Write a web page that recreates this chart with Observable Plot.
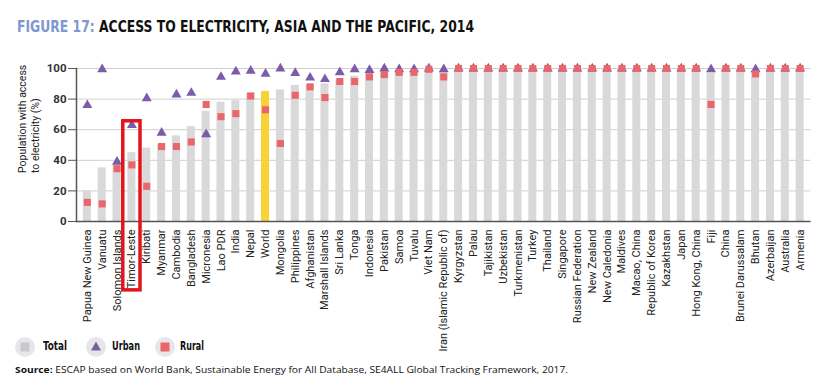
<!DOCTYPE html>
<html>
<head>
<meta charset="utf-8">
<script src="https://cdn.jsdelivr.net/npm/d3@7"></script>
<script src="https://cdn.jsdelivr.net/npm/@observablehq/plot@0.6"></script>
<style>
  html, body { margin: 0; padding: 0; background: #fff; }
  #wrap { position: relative; width: 828px; height: 389px; overflow: hidden; background: #fff; }
  #title { position: absolute; left: 17px; top: 17px; font-family: "Liberation Sans Narrow", "DejaVu Sans Condensed", Roboto, sans-serif; font-weight: bold; font-size: 16.5px; line-height: 20px; white-space: nowrap; color: #111; transform-origin: 0 0; }
  #title .fig { color: #7f97cf; }
  #chart { position: absolute; left: 0; top: 48px; }
  #chart svg { overflow: visible; }
  .leg { position: absolute; font-family: "Liberation Sans Narrow", "DejaVu Sans Condensed", Roboto, sans-serif; font-weight: bold; font-size: 12.5px; color: #111; line-height: 14px; white-space: nowrap; transform-origin: 0 0; }
  .legsym { position: absolute; }
  #source { position: absolute; left: 15px; top: 364px; font-family: "Open Sans", Roboto, sans-serif; font-size: 9.5px; line-height: 12px; color: #111; white-space: nowrap; transform-origin: 0 0; }
  #source b { font-weight: bold; }
</style>
</head>
<body>
<div id="wrap">
  <div id="title"><span class="fig">FIGURE 17:</span> ACCESS TO ELECTRICITY, ASIA AND THE PACIFIC, 2014</div>
  <div id="chart"></div>
  <div id="legend"></div>
  <div id="source"><b>Source:</b> ESCAP based on World Bank, Sustainable Energy for All Database, SE4ALL Global Tracking Framework, 2017.</div>
</div>
<script>
const countries = ["Papua New Guinea","Vanuatu","Solomon Islands","Timor-Leste","Kiribati","Myanmar","Cambodia","Bangladesh","Micronesia","Lao PDR","India","Nepal","World","Mongolia","Philippines","Afghanistan","Marshall Islands","Sri Lanka","Tonga","Indonesia","Pakistan","Samoa","Tuvalu","Viet Nam","Iran (Islamic Republic of)","Kyrgyzstan","Palau","Tajikistan","Uzbekistan","Turkmenistan","Turkey","Thailand","Singapore","Russian Federation","New Zealand","New Caledonia","Maldives","Macao, China","Republic of Korea","Kazakhstan","Japan","Hong Kong, China","Fiji","China","Brunei Darussalam","Bhutan","Azerbaijan","Australia","Armenia"];

const total = [20,35,37,45,48,50,56,62,72,78,79,84,85,86,89,89.5,90,92.5,95,97,97.5,98,98,99,98.5,100,100,100,100,100,100,100,100,100,100,100,100,100,100,100,100,100,97,100,100,98,100,100,100];

const urban = [76,99.5,39,63,80.5,58,83,84,57,94.5,98,98.5,96.5,100,97,94,93,97.5,99.5,99,100,99.5,99.5,100,99.5,100,100,100,100,100,100,100,100,100,100,100,100,100,100,100,100,100,99.5,100,100,99.5,100,100,100];

const rural = [12.5,11.5,34.5,37,23,49,49,52,76.5,68.5,70.5,82,73,51,82.5,88,81,91.5,91.5,94.5,96,97.5,97.5,99.5,94.5,100,100,100,100,100,100,100,100,100,100,100,100,100,100,100,100,100,76.5,100,100,96.5,100,100,100];

const yTicks = [0,20,40,60,80,100];
const highlighted = ["Timor-Leste"];
const highlightExtent = [-45, 65.5];
const worldName = "World";
const yLabel = "Population with access\nto electricity (%)";
const legendItems = ["Total","Urban","Rural"];

const colGray = "#d9d9d9", colWorld = "#f8d336", colUrban = "#7a5ca8", colRural = "#e9676a", colBox = "#e3141b";

const data = countries.map((c, i) => ({country: c, total: total[i], urban: urban[i], rural: rural[i]}));

const chart = Plot.plot({
  width: 828,
  height: 341,
  marginTop: 20,
  marginBottom: 168,
  marginLeft: 76,
  marginRight: 17.5,
  style: {fontFamily: "Roboto, sans-serif", background: "transparent", overflow: "visible"},
  x: {domain: countries, padding: 0.46, label: null},
  y: {domain: [0, 100], label: null},
  marks: [
    Plot.gridY(yTicks, {stroke: "#cfcfcf", strokeOpacity: 1, strokeWidth: 1}),
    Plot.barY(data, {filter: d => d.country !== worldName, x: "country", y: "total", fill: colGray}),
    Plot.barY(data, {filter: d => d.country === worldName, x: "country", y: "total", fill: colWorld}),
    Plot.frame({anchor: "left", stroke: "#555", strokeWidth: 1.5}),
    Plot.ruleY([0], {stroke: "#555", strokeWidth: 1.5}),
    Plot.axisY({ticks: yTicks, tickSize: 8, tickPadding: 2, stroke: "#555", fill: "#333", fontSize: 11.5, fontWeight: "bold", label: null}),
    Plot.axisX({tickRotate: -90, tickSize: 0, tickPadding: 8, fontSize: 11, fill: "#222", label: null}),
    Plot.dot(data, {x: "country", y: "urban", symbol: "triangle", fill: colUrban, r: 3.7}),
    Plot.dot(data, {x: "country", y: "rural", symbol: "square", fill: colRural, r: 4}),
    Plot.barY(highlighted, {x: d => d, y1: highlightExtent[0], y2: highlightExtent[1], fill: "none", stroke: colBox, strokeWidth: 3.5, insetLeft: -4.6, insetRight: -4.6}),
    Plot.text([yLabel], {frameAnchor: "left", rotate: -90, dx: -48, dy: 28, fontSize: 10.5, lineHeight: 1.25, fill: "#222"})
  ]
});
document.getElementById("chart").appendChild(chart);

function fitWidth(el, target) {
  const w = el.getBoundingClientRect().width;
  if (w > 0) el.style.transform = `scaleX(${target / w})`;
}

// legend
const legend = document.getElementById("legend");
const legX = [25, 95.5, 164.5];
const legTextX = [43, 112, 180];
const legTextW = [24, 28, 24];
legendItems.forEach((name, i) => {
  const ns = "http://www.w3.org/2000/svg";
  const svg = document.createElementNS(ns, "svg");
  svg.setAttribute("width", 22); svg.setAttribute("height", 22);
  svg.setAttribute("class", "legsym");
  svg.style.left = (legX[i] - 11) + "px";
  svg.style.top = (346.5 - 11) + "px";
  const circ = document.createElementNS(ns, "circle");
  circ.setAttribute("cx", 11); circ.setAttribute("cy", 11); circ.setAttribute("r", 10);
  circ.setAttribute("fill", "#e7e7eb");
  svg.appendChild(circ);
  let shape;
  if (i === 0) {
    shape = document.createElementNS(ns, "rect");
    shape.setAttribute("x", 6.5); shape.setAttribute("y", 6.5); shape.setAttribute("width", 9); shape.setAttribute("height", 9);
    shape.setAttribute("fill", "#c9c9cc");
  } else if (i === 1) {
    shape = document.createElementNS(ns, "path");
    shape.setAttribute("d", "M11,5.5 L16,14.5 L6,14.5 Z");
    shape.setAttribute("fill", colUrban);
  } else {
    shape = document.createElementNS(ns, "rect");
    shape.setAttribute("x", 6.5); shape.setAttribute("y", 6.5); shape.setAttribute("width", 9); shape.setAttribute("height", 9);
    shape.setAttribute("fill", colRural);
  }
  svg.appendChild(shape);
  legend.appendChild(svg);
  const t = document.createElement("div");
  t.className = "leg";
  t.textContent = name;
  t.style.left = legTextX[i] + "px";
  t.style.top = "339px";
  legend.appendChild(t);
  fitWidth(t, legTextW[i]);
});

fitWidth(document.getElementById("title"), 457);
fitWidth(document.getElementById("source"), 553);
</script>
</body>
</html>
